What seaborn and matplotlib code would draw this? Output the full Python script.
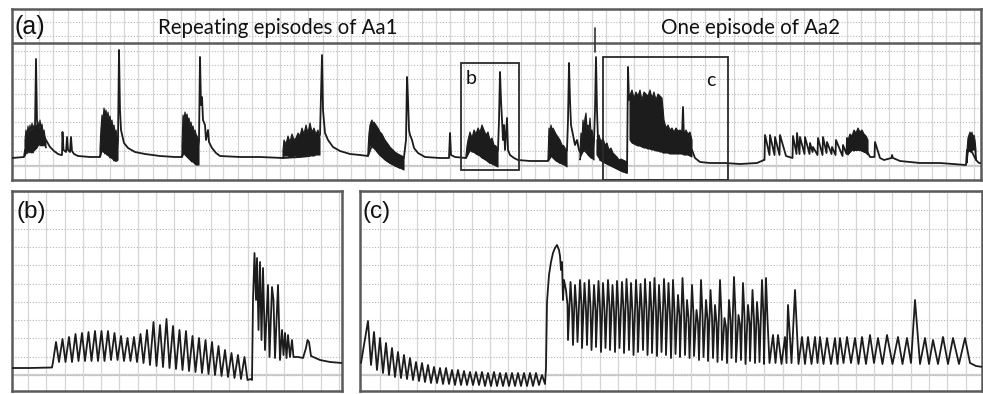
import numpy as np
import pandas as pd
import matplotlib
matplotlib.use("Agg")
import matplotlib.pyplot as plt
from matplotlib.patches import Rectangle
import seaborn as sns

# ---------------- data ----------------
# Panel (a): long recording, amplitude relative to resting baseline
a_time = [12, 24, 25, 28, 32, 35, 36, 37, 38, 42, 46, 50, 54, 58, 61, 62, 62.5, 63.5, 66, 67, 68, 70, 71, 72, 74, 78, 90,
          100, 102, 108, 112, 116, 118, 119, 120, 121, 124, 128, 135, 145, 160, 175, 182, 185, 190, 196, 199, 200, 201,
          202, 203, 205, 206, 208, 209, 212, 216, 220, 240, 260, 283, 300, 310, 320, 322, 323, 325, 328, 333, 340, 350,
          360, 368, 372, 380, 390, 400, 404, 406, 407, 408, 409, 410, 412, 414, 418, 425, 440, 449, 450, 451, 455, 466,
          470, 480, 490, 498, 499, 500, 501, 502, 503, 504, 505, 507, 508, 510, 514, 518, 530, 547, 548, 552, 560, 567,
          568, 569, 570, 571, 573, 575, 577, 579, 580, 584, 592, 594, 595, 596, 597, 598, 600, 610, 620, 627, 628, 629,
          630, 640, 660, 670, 682, 683, 684, 692, 695, 700, 710, 725, 740, 757, 764, 764.5, 765, 769.5, 770, 774.5, 775,
          779.5, 780, 786, 792.5, 793, 796.5, 797, 799.5, 800, 804.5, 805, 809.5, 810, 812.5, 813, 817.5, 818, 822.5, 823,
          826.5, 827, 831.5, 832, 835.5, 836, 842.5, 843, 846.5, 847, 848, 852, 860, 868, 870, 874.5, 875, 880, 884,
          891.5, 892, 893, 900, 920, 940, 966, 967, 972, 976, 979, 981]
a_signal = [0, 1, 8, 8, 6, 30, 99, 38, 28, 13, 18, 11, 7, 4, 3, 3, 26, 8, 6, 21, 8, 6, 21, 7, 4, 2, 1,
            1, 8, 3, 0, -3, 18, 108, 48, 28, 15, 10, 6, 4, 2, 1, 1, 8, 0, -4, 18, 101, 53,
            61, 38, 33, 18, 28, 16, 10, 5, 2, 1, 1, 0, 1, 2, 23, 103, 48, 25, 18, 11, 7, 4,
            3, 2, 13, 3, -5, -10, 1, 18, 81, 58, 28, 23, 18, 10, 5, 1, 0, 0, 25, 3, 1, 0,
            8, 3, -5, 8, 38, 86, 58, 38, 18, 33, 8, 40, 8, 3, 0, -2, -3, -3, -3, 3, -5, 8,
            38, 95, 58, 33, 23, 13, 18, 8, 6, 8, 0, 18, 48, 101, 48, 18, -2, -7, -12, -15, 91, 58,
            63, 13, 8, 6, 23, 51, 18, 8, 0, -4, -5, -5, -6, -5, -2, -2, 23, 3, 23, 3, 21,
            3, 23, 2, 0, 22, 4, 25, 4, 21, 4, 21, 4, 15, 6, 11, 3, 20, 3, 21,
            5, 16, 4, 11, 3, 18, 2, 13, 4, 20, 4, 8, 8, 5, 1, 1, 16, 0, -2,
            0, 3, 0, -3, -5, -5, -7, 8, 6, -2, -5, -5]

# Dense bursts of panel (a): upper / lower envelope (NaN separates bursts)
nan = np.nan
burst_time = [25, 26, 27, 28, 29, 30, 31, 32, 33, 34, 35, 37, 38, 39, 40, 41, 42, 43, 44, 45, 46, 46.5,
              100, 101, 102, 103, 104, 105, 106, 107, 108, 109, 110, 111, 112, 113, 114, 115, 116, 117, 118, 118.5,
              182, 183, 184, 185, 186, 187, 188, 189, 190, 191, 192, 193, 194, 195, 196, 197, 198, 199, 199.5,
              283, 284, 286, 288, 290, 292, 294, 296, 298, 300, 302, 304, 306, 308, 310, 312, 314, 316, 318, 320, 320.5,
              368, 369, 370, 371, 372, 373, 374, 376, 378, 380, 382, 385, 388, 390, 392, 395, 398, 400, 402, 404, 404.5,
              466, 467, 468, 469, 470, 472, 474, 476, 478, 480, 482, 484, 486, 488, 490, 492, 494, 496, 498, 498.5,
              548, 549, 550, 551, 552, 553, 554, 556, 558, 560, 562, 564, 566, 567, 567.5,
              580, 581, 582, 583, 584, 585, 586, 587, 588, 589, 590, 591, 592, 593, 594, 594.5,
              597, 599, 601, 603, 605, 607, 609, 611, 613, 615, 617, 619, 621, 623, 625, 627, 627.5,
              630, 632, 634, 636, 638, 640, 642, 644, 646, 648, 650, 652, 654, 656, 658, 660, 662, 663, 664, 666, 668,
              670, 672, 674, 676, 678, 680, 682, 684, 686, 688, 690, 692, 692.5,
              848, 850, 852, 854, 856, 858, 860, 862, 864, 866, 868, 868.5,
              967, 968, 969, 970, 971, 972, 973, 974, 975, 976]
burst_top = [18, 28, 22, 32, 25, 33, 27, 35, 28, 33, 30, 33, 36, 28, 38, 30, 34, 26, 28, 22, 18, nan,
             10, 30, 43, 38, 50, 44, 48, 40, 46, 38, 42, 34, 38, 30, 33, 26, 28, 22, 18, nan,
             13, 43, 38, 46, 40, 44, 38, 40, 33, 36, 30, 32, 26, 28, 24, 22, 20, 18, nan,
             8, 18, 14, 22, 16, 24, 18, 20, 25, 22, 30, 24, 33, 25, 35, 26, 30, 24, 28, 20, nan,
             8, 25, 33, 36, 38, 34, 36, 33, 30, 26, 24, 18, 14, 11, 9, 6, 4, 3, 2, 1, nan,
             3, 12, 18, 22, 26, 20, 28, 24, 30, 26, 33, 28, 23, 26, 18, 20, 13, 12, 8, nan,
             0, 30, 26, 33, 28, 30, 28, 24, 21, 18, 13, 12, 8, 8, nan,
             8, 25, 20, 38, 30, 40, 45, 30, 33, 28, 40, 26, 28, 22, 18, nan,
             18, 23, 16, 20, 13, 15, 8, 10, 5, 3, 1, -2, -1, -2, -3, -4, nan,
             63, 68, 60, 66, 62, 68, 58, 66, 64, 62, 68, 60, 66, 58, 64, 62, 60, 50, 38, 30, 33,
             28, 30, 26, 30, 27, 28, 26, 25, 28, 24, 26, 18, nan,
             18, 24, 22, 28, 25, 30, 26, 28, 24, 22, 18, nan,
             8, 20, 23, 26, 22, 26, 20, 23, 18, 8]
burst_bottom = [2, 6, 4, 8, 5, 7, 5, 6, 5, 7, 8, 10, 12, 13, 13, 12, 13, 12, 13, 12, 10, nan,
                1, 5, 8, 6, 6, 4, 5, 3, 3, 2, 0, 1, 0, -1, -3, -2, -3, -3, -2, nan,
                1, 8, 5, 3, 2, 1, 0, -1, -2, -3, -4, -4, -5, -6, -7, -7, -7, -7, nan,
                0, 2, 2, 2, 1, 1, 2, 2, 1, 1, 2, 2, 2, 3, 3, 2, 2, 3, 3, 3, nan,
                2, 8, 13, 12, 13, 10, 10, 8, 5, 3, 1, -2, -4, -5, -6, -8, -9, -10, -11, -12, nan,
                0, 2, 4, 6, 8, 6, 6, 4, 3, 2, 0, -1, -2, -3, -5, -6, -7, -8, -9, nan,
                -3, 0, 2, 3, 1, 0, -1, -3, -4, -5, -6, -7, -8, -9, nan,
                -2, 2, 4, 6, 7, 8, 8, 5, 3, 2, 1, 0, 0, -1, -2, nan,
                3, 0, -2, -4, -5, -6, -7, -8, -9, -10, -11, -12, -13, -14, -14, -15, nan,
                18, 15, 14, 13, 12, 12, 11, 10, 10, 9, 9, 8, 8, 7, 7, 6, 6, 5, 5, 5, 5,
                4, 4, 4, 4, 4, 4, 4, 3, 3, 3, 2, 1, nan,
                3, 6, 8, 7, 8, 8, 8, 7, 6, 5, 3, nan,
                -5, 5, 8, 7, 6, 7, 8, 8, 8, -2]

# zoom windows marked in (a)
zoom_b = (461, 519, -12, 95)
zoom_c = (603, 728, -22, 101)
event_mark_t = 595

# Panel (b): one Aa1 episode
b_base_t = [12, 30, 52, 53]
b_base_v = [7, 7, 7.5, 13]
b_peak_t = [56, 62.5, 69, 75.5, 82, 88.5, 95, 101.5, 108, 114.5, 121, 127.5, 134, 140.5, 147, 153.5, 160, 166.5,
            173, 179.5, 186, 192.5, 199, 205.5, 212, 218.5, 225, 231.5, 238, 244.5]
b_peak_v = [33, 36, 38, 41, 42, 43, 44, 44, 44, 42, 39, 37, 38, 41, 45, 53, 50, 56, 49, 45, 44, 39, 37, 35, 33,
            29, 25, 22, 20, 18]
b_trough_t = [59, 65.5, 72, 78.5, 85, 91.5, 98, 104.5, 111, 117.5, 124, 130.5, 137, 143.5, 150, 156.5, 163, 169.5,
              176, 182.5, 189, 195.5, 202, 208.5, 215, 221.5, 228, 234.5, 241, 247.5]
b_trough_v = [13, 13, 13, 14, 14, 14, 14, 14, 15, 15, 14, 14, 13, 12, 10, 9, 8, 7, 6, 5, 4, 3, 2, 1, 0,
              -1, -2, -3, -4, -5]
b_tail_t = [251, 252, 253, 254.5, 256, 257, 258.5, 260, 261.5, 263, 265, 268, 269.5, 272, 273.5, 275, 278, 280,
            282, 283.5, 285, 286.5, 288, 290, 292, 293.5, 298, 303, 306, 307.5, 309, 311, 320, 330, 342]
b_tail_v = [-4, -5, 75, 122, 75, 117, 45, 113, 35, 107, 25, 90, 18, 88, 75, 17, 90, 15,
            45, 20, 42, 17, 40, 18, 35, 18, 18, 17, 27, 35, 33, 19, 15, 13, 12]

# Panel (c): end of Aa1 and the Aa2 episode
c_slow_peak_t = [368, 374, 380, 386, 392, 398, 404, 410, 416, 422, 428, 434, 440, 446, 452, 458, 464, 470, 476,
                 482, 488, 494, 500, 506, 512, 518, 524, 530, 536, 542]
c_slow_peak_v = [54, 43, 37, 32, 27, 23, 20, 17, 13, 12, 10, 8, 7, 7, 5, 5, 4, 3, 3, 3, 2, 3, 2, 2, 2, 2, 2, 2, 2, 0]
c_slow_trough_t = [361, 371, 377, 383, 389, 395, 401, 407, 413, 419, 425, 431, 437, 443, 449, 455, 461, 467, 473,
                   479, 485, 491, 497, 503, 509, 515, 521, 527, 533, 539, 545]
c_slow_trough_v = [12, 10, 5, 2, 0, -2, -3, -4, -5, -6, -7, -8, -8, -9, -9, -10, -10, -10, -10, -10, -11, -11,
                   -11, -11, -11, -11, -11, -11, -11, -10, -9]
c_rise_t = [546, 547, 549, 551, 553, 555, 557, 559, 560, 561, 562, 563, 564]
c_rise_v = [7, 73, 100, 113, 122, 127, 130, 125, 119, 105, 113, 75, 95]
c_dense_peak_t = [566, 570.5, 575, 580, 584.5, 589, 594, 598.5, 603, 608, 612.5, 617, 622, 626.5, 631, 636, 640.5,
                  645, 650, 654.5, 659, 664, 668.5, 673, 678, 682.5, 687, 692, 696.5, 701, 706, 710.5, 715, 720,
                  724.5, 729, 734, 738.5, 743, 748, 752.5, 757, 762, 766]
c_dense_peak_v = [85, 93, 90, 95, 92, 95, 90, 94, 92, 95, 90, 94, 93, 96, 92, 95, 91, 96, 93, 97, 90, 96, 92, 95,
                  80, 97, 75, 90, 65, 95, 75, 85, 70, 95, 57, 75, 98, 60, 92, 70, 85, 73, 95, 97]
c_dense_shoulder_t = [567.5, 572, 576.5, 581.5, 586, 590.5, 595.5, 600, 604.5, 609.5, 614, 618.5, 623.5, 628,
                      632.5, 637.5, 642, 646.5, 651.5, 656, 660.5, 665.5, 670, 674.5, 679.5, 684, 688.5, 693.5,
                      698, 702.5, 707.5, 712, 716.5, 721.5, 726, 730.5, 735.5, 740, 744.5, 749.5, 754, 758.5,
                      763.5, 767.5]
c_dense_shoulder_v = [70, 68, 66, 70, 65, 68, 64, 67, 65, 68, 63, 66, 64, 67, 62, 65, 63, 66, 62, 64, 61, 64, 60,
                      63, 58, 62, 57, 60, 52, 60, 55, 58, 52, 58, 48, 55, 60, 50, 58, 52, 55, 50, 58, 55]
c_dense_trough_t = [568, 573, 577.5, 582, 587, 591.5, 596, 601, 605.5, 610, 615, 619.5, 624, 629, 633.5, 638, 643,
                    647.5, 652, 657, 661.5, 666, 671, 675.5, 680, 685, 689.5, 694, 699, 703.5, 708, 713, 717.5,
                    722, 727, 731.5, 736, 741, 745.5, 750, 755, 759.5, 764, 769.5]
c_dense_trough_v = [35, 30, 33, 27, 30, 25, 28, 23, 27, 25, 23, 27, 22, 25, 20, 23, 25, 20, 22, 19, 23, 20, 17, 21,
                    18, 20, 17, 19, 15, 18, 14, 17, 13, 15, 12, 17, 13, 15, 11, 14, 12, 13, 11, 12]
c_reg_peak_t = [773, 778, 785, 788, 795, 802, 808, 815, 820, 827, 835, 840, 847, 855, 862, 870, 878, 887, 898, 907,
                915, 925, 933, 943, 953, 965]
c_reg_peak_v = [40, 40, 38, 70, 85, 38, 38, 38, 38, 37, 37, 37, 38, 37, 38, 40, 37, 40, 38, 37, 75, 37, 35, 38, 37, 37]
c_reg_trough_t = [775.5, 781.5, 786.5, 791.5, 798.5, 805, 811.5, 817.5, 823.5, 831, 837.5, 843.5, 851, 858.5,
                  866, 874, 882.5, 892.5, 902.5, 911, 920, 929, 938, 948, 959, 970, 976, 983]
c_reg_trough_v = [12, 11, 12, 12, 11, 11, 11, 12, 11, 11, 11, 12, 12, 11, 11, 12, 11, 11, 11, 12, 11, 11, 11, 11,
                  11, 12, 9, 8]

# ---------------- figure ----------------
sns.set_theme(style="white")
plt.rcParams["font.family"] = ["Liberation Sans", "DejaVu Sans"]

W, H = 983, 394
fig = plt.figure(figsize=(W / 100, H / 100), dpi=100)
fig.patch.set_facecolor("white")

def px_axes(x0, y0, x1, y1):
    return fig.add_axes([x0 / W, 1 - y1 / H, (x1 - x0) / W, (y1 - y0) / H])

ax_a = px_axes(12, 9, 981, 180)
ax_b = px_axes(12, 191, 342, 391)
ax_c = px_axes(360, 191, 982, 391)

TRACE = "#1c1c1c"
VGRID = "#d6d6d6"
HGRID = "#b8b8b8"
FRAME = "#5a5a5a"
HEAD_FONT = ["Lato", "DejaVu Sans"]


def style(ax, xlim, ylim, xgrid, ygrid, base):
    ax.set_xlim(*xlim)
    ax.set_ylim(*ylim)
    ax.set_xticks(xgrid)
    ax.set_yticks(ygrid)
    ax.tick_params(length=0, labelbottom=False, labelleft=False)
    ax.xaxis.grid(True, color=VGRID, lw=0.9, ls="-")
    ax.yaxis.grid(True, color=HGRID, lw=0.8, ls=(0, (1, 1.6)))
    ax.set_axisbelow(True)
    ax.axhline(base, color="#cfcfcf", lw=1.6, zorder=0.5)
    for s in ax.spines.values():
        s.set_color(FRAME)
        s.set_linewidth(1.8)
        s.set_visible(True)
    ax.set_xlabel("")
    ax.set_ylabel("")


# ---- panel (a)
style(ax_a, (12, 981), (-22, 149), np.arange(25, 981, 14.17), np.arange(-7, 149, 14.3), -7.5)
ax_a.fill_between(burst_time, burst_bottom, burst_top, color=TRACE, lw=0.8, edgecolor=TRACE, zorder=3)
sns.lineplot(x=a_time, y=a_signal, sort=False, estimator=None, ax=ax_a, color=TRACE, lw=1.3, zorder=4)
ax_a.axhline(115, color=FRAME, lw=1.8, zorder=5)
ax_a.plot([event_mark_t, event_mark_t], [106, 130], color="#333333", lw=1.2, zorder=5)
for (x0, x1, y0, y1) in (zoom_b, zoom_c):
    ax_a.add_patch(Rectangle((x0, y0), x1 - x0, y1 - y0, fill=False, ec="#2a2a2a", lw=1.3, zorder=6))
ax_a.text(zoom_b[0] + 5, 79, "b", fontsize=14, family=HEAD_FONT, va="center", ha="left", color="#111")
ax_a.text(zoom_c[1] - 12, 77, "c", fontsize=14, family=HEAD_FONT, va="center", ha="right", color="#111")
ax_a.text(14, 131, "(a)", fontsize=18, va="center", ha="left", color="#111")
ax_a.text(278, 130, "Repeating episodes of Aa1", fontsize=14.8, family=HEAD_FONT,
          va="center", ha="center", color="#111")
ax_a.text(751, 130, "One episode of Aa2", fontsize=14.8, family=HEAD_FONT,
          va="center", ha="center", color="#111")

# ---- panel (b)
b_df = pd.DataFrame({"t": b_peak_t + b_trough_t, "v": b_peak_v + b_trough_v}).sort_values("t")
b_t = b_base_t + list(b_df["t"]) + b_tail_t
b_v = b_base_v + list(b_df["v"]) + b_tail_v
style(ax_b, (12, 342), (-16, 184), np.arange(28, 342, 18.3), np.arange(0, 184, 18.3), 0)
sns.lineplot(x=b_t, y=b_v, sort=False, estimator=None, ax=ax_b, color=TRACE, lw=1.3, zorder=4)
ax_b.text(16, 163, "(b)", fontsize=17.5, va="center", ha="left", color="#111")

# ---- panel (c)
c_df = pd.DataFrame({
    "t": (c_slow_peak_t + c_slow_trough_t + c_rise_t + c_dense_peak_t + c_dense_shoulder_t + c_dense_trough_t
          + c_reg_peak_t + c_reg_trough_t),
    "v": (c_slow_peak_v + c_slow_trough_v + c_rise_v + c_dense_peak_v + c_dense_shoulder_v + c_dense_trough_v
          + c_reg_peak_v + c_reg_trough_v),
}).sort_values("t", kind="stable")
style(ax_c, (360, 982), (-16, 184), np.arange(380, 982, 18.3), np.arange(0, 184, 18.3), 0)
sns.lineplot(data=c_df, x="t", y="v", sort=False, estimator=None, ax=ax_c, color=TRACE, lw=1.3, zorder=4)
ax_c.text(363, 163, "(c)", fontsize=17.5, va="center", ha="left", color="#111")

fig.savefig("out.png", dpi=100)
